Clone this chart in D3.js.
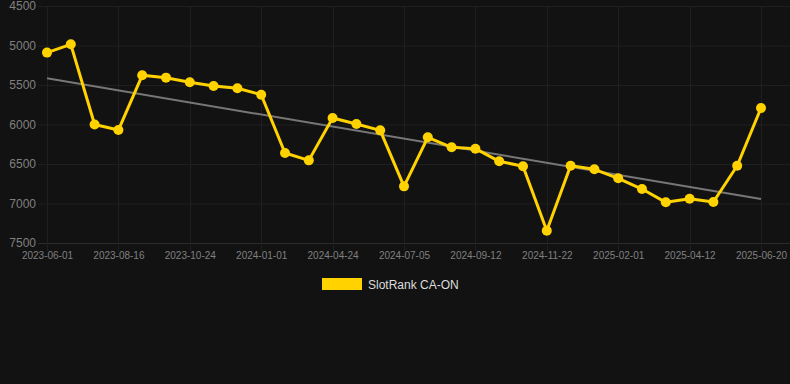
<!DOCTYPE html>
<html>
<head>
<meta charset="utf-8">
<script src="https://cdn.jsdelivr.net/npm/d3@7/dist/d3.min.js"></script>
<style>
  html, body { margin: 0; padding: 0; background: #121212; }
  svg { display: block; font-family: "Liberation Sans", Arial, sans-serif; }
</style>
</head>
<body>
<svg id="chart" width="790" height="384"></svg>
<script>
// categories: one rank snapshot per date, only every third label is shown
const dates = [
  "2023-06-01", "2023-06-26", "2023-07-21", "2023-08-16", "2023-09-08", "2023-10-01",
  "2023-10-24", "2023-11-13", "2023-12-07", "2024-01-01", "2024-02-08", "2024-03-17",
  "2024-04-24", "2024-05-18", "2024-06-11", "2024-07-05", "2024-07-28", "2024-08-20",
  "2024-09-12", "2024-10-05", "2024-10-29", "2024-11-22", "2024-12-15", "2025-01-08",
  "2025-02-01", "2025-02-24", "2025-03-19", "2025-04-12", "2025-05-05", "2025-05-28",
  "2025-06-20"
];
const rankValues = [
  5090, 4985, 6000, 6070, 5377, 5407, 5466, 5513, 5542, 5623,
  6361, 6454, 5918, 5994, 6074, 6783, 6162, 6289, 6306, 6466,
  6529, 7344, 6522, 6567, 6681, 6817, 6985, 6939, 6981, 6522,
  5791
];
const yTicks = [4500, 5000, 5500, 6000, 6500, 7000, 7500];
const seriesName = "SlotRank CA-ON";

(function () {
  "use strict";

  const width = 790;
  const margin = { top: 6, left: 47, right: 29 };
  const plotBottom = 243;

  const svg = d3.select("#chart");

  const x = d3.scalePoint()
    .domain(dates)
    .range([margin.left, width - margin.right]);

  // rank axis is reversed: better rank on top
  const y = d3.scaleLinear()
    .domain([4500, 7500])
    .range([margin.top, plotBottom]);

  const shownDates = dates.filter((d, i) => i % 3 === 0);

  // grid
  const grid = svg.append("g");
  grid.selectAll("line.h")
    .data(yTicks)
    .enter()
    .append("line")
    .attr("x1", 38)
    .attr("x2", width)
    .attr("y1", (d) => y(d) + 0.5)
    .attr("y2", (d) => y(d) + 0.5)
    .attr("stroke", (d) => (d === 7500 ? "#2c2c2c" : "#1f1f1f"))
    .attr("stroke-width", 1);
  grid.selectAll("line.v")
    .data(shownDates)
    .enter()
    .append("line")
    .attr("x1", (d) => Math.round(x(d)) + 0.5)
    .attr("x2", (d) => Math.round(x(d)) + 0.5)
    .attr("y1", margin.top)
    .attr("y2", plotBottom + 8)
    .attr("stroke", "#1f1f1f")
    .attr("stroke-width", 1);

  // y axis labels
  const yAxis = svg.append("g")
    .attr("transform", "translate(36,0)")
    .call(d3.axisLeft(y).tickValues(yTicks).tickSize(0).tickPadding(0).tickFormat(d3.format("d")));
  yAxis.select(".domain").remove();
  yAxis.selectAll("text")
    .attr("fill", "#808080")
    .attr("font-size", 12)
    .attr("font-family", "'Liberation Sans', Arial, sans-serif");

  // x axis labels
  const xAxis = svg.append("g")
    .attr("transform", `translate(0,${plotBottom + 9})`)
    .call(d3.axisBottom(x).tickValues(shownDates).tickSize(0).tickPadding(0));
  xAxis.select(".domain").remove();
  xAxis.selectAll("text")
    .attr("fill", "#808080")
    .attr("font-size", 10)
    .attr("font-family", "'Liberation Sans', Arial, sans-serif");

  // trend line (least squares over the index)
  const n = rankValues.length;
  const idx = d3.range(n);
  const mx = d3.mean(idx);
  const my = d3.mean(rankValues);
  const slope = d3.sum(idx, (i) => (i - mx) * (rankValues[i] - my)) / d3.sum(idx, (i) => (i - mx) * (i - mx));
  const intercept = my - slope * mx;
  svg.append("line")
    .attr("x1", x(dates[0]))
    .attr("y1", y(intercept))
    .attr("x2", x(dates[n - 1]))
    .attr("y2", y(intercept + slope * (n - 1)))
    .attr("stroke", "#777")
    .attr("stroke-width", 2);

  // series
  const line = d3.line()
    .x((d, i) => x(dates[i]))
    .y((d) => y(d));
  svg.append("path")
    .datum(rankValues)
    .attr("d", line)
    .attr("fill", "none")
    .attr("stroke", "#ffd200")
    .attr("stroke-width", 3)
    .attr("stroke-linejoin", "round");
  svg.append("g")
    .selectAll("circle")
    .data(rankValues)
    .enter()
    .append("circle")
    .attr("cx", (d, i) => x(dates[i]))
    .attr("cy", (d) => y(d))
    .attr("r", 5)
    .attr("fill", "#ffd200");

  // legend
  const legend = svg.append("g").attr("transform", "translate(322,278)");
  legend.append("rect")
    .attr("width", 40)
    .attr("height", 12)
    .attr("fill", "#ffd200");
  legend.append("text")
    .attr("x", 46)
    .attr("y", 10.5)
    .attr("fill", "#dddddd")
    .attr("font-size", 12)
    .text(seriesName);
})();
</script>
</body>
</html>
